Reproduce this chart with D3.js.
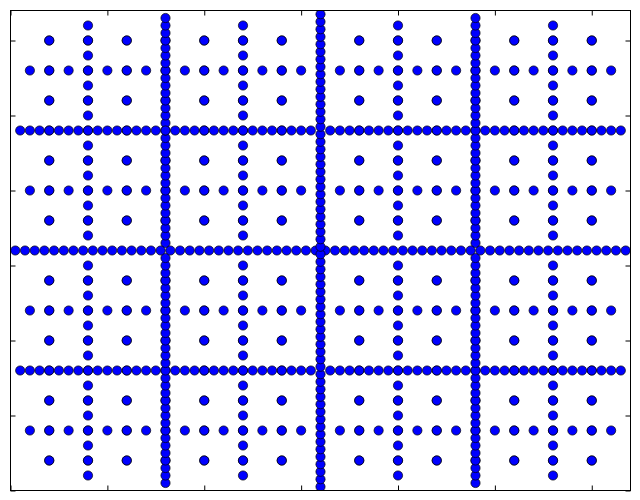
<!DOCTYPE html>
<html>
<head>
<meta charset="utf-8">
<script src="https://cdn.jsdelivr.net/npm/d3@7"></script>
<style>
  html, body { margin: 0; padding: 0; background: #ffffff; }
  svg { display: block; }
</style>
</head>
<body>
<svg id="chart" width="640" height="500"></svg>
<script>
// ---- data ----
const xDomain = [0, 64];
const yDomain = [0, 64];
const xTicks = [0, 10, 20, 30, 40, 50, 60];
const yTicks = [0, 10, 20, 30, 40, 50, 60];

// central cross (x = 32 and y = 32), points every 1 unit, 0.5 .. 63.5
const centerLine = [32];
const centerRange = [0.5, 63.5, 1];
// quarter lines, every 1 unit, 1 .. 63
const level1Lines = [16, 48];
const level1Range = [1, 63, 1];
// cell crosses, every 2 units, 2 .. 62
const level2Lines = [8, 24, 40, 56];
const level2Range = [2, 62, 2];
// sub-cell lines, every 4 units, 4 .. 60
const level3Lines = [4, 12, 20, 28, 36, 44, 52, 60];
const level3Range = [4, 60, 4];

// ---- layout ----
const svg = d3.select("#chart");
const plot = { left: 10.5, right: 630.5, top: 10.5, bottom: 490.5 };

const x = d3.scaleLinear().domain(xDomain).range([plot.left, plot.right]);
const y = d3.scaleLinear().domain(yDomain).range([plot.bottom, plot.top]);

function along(range, skipCenter) {
  const out = [];
  for (let v = range[0]; v <= range[1] + 1e-9; v += range[2]) {
    if (skipCenter && Math.abs(v - 32) < 1e-9) continue;
    out.push(v);
  }
  return out;
}

const points = [];
function addLines(lines, range, skipCenter) {
  const vals = along(range, skipCenter);
  lines.forEach(p => {
    vals.forEach(v => points.push([v, p]));   // horizontal row at y = p
    vals.forEach(v => points.push([p, v]));   // vertical column at x = p
  });
}
addLines(level3Lines, level3Range, true);
addLines(level2Lines, level2Range, true);
addLines(level1Lines, level1Range, true);
addLines(centerLine, centerRange, false);

const clipId = "plotclip";
svg.append("clipPath").attr("id", clipId)
  .append("rect")
  .attr("x", plot.left).attr("y", plot.top)
  .attr("width", plot.right - plot.left).attr("height", plot.bottom - plot.top);

svg.append("g").attr("clip-path", `url(#${clipId})`)
  .selectAll("circle")
  .data(points)
  .join("circle")
  .attr("cx", d => x(d[0]))
  .attr("cy", d => y(d[1]))
  .attr("r", 4.6)
  .attr("fill", "#0000ff")
  .attr("stroke", "#000000")
  .attr("stroke-width", 0.7);

// axes with inward ticks, no labels
const tickLen = 5;
const bottomAxis = d3.axisBottom(x).tickValues(xTicks).tickSize(-tickLen).tickFormat("");
const topAxis = d3.axisTop(x).tickValues(xTicks).tickSize(-tickLen).tickFormat("");
const leftAxis = d3.axisLeft(y).tickValues(yTicks).tickSize(-tickLen).tickFormat("");
const rightAxis = d3.axisRight(y).tickValues(yTicks).tickSize(-tickLen).tickFormat("");

function styleAxis(g) {
  g.select(".domain").remove();
  g.selectAll(".tick line").attr("stroke", "#000").attr("stroke-width", 1);
}
svg.append("g").attr("transform", `translate(0,${plot.bottom})`).call(bottomAxis).call(styleAxis);
svg.append("g").attr("transform", `translate(0,${plot.top})`).call(topAxis).call(styleAxis);
svg.append("g").attr("transform", `translate(${plot.left},0)`).call(leftAxis).call(styleAxis);
svg.append("g").attr("transform", `translate(${plot.right},0)`).call(rightAxis).call(styleAxis);

// frame
svg.append("rect")
  .attr("x", plot.left).attr("y", plot.top)
  .attr("width", plot.right - plot.left).attr("height", plot.bottom - plot.top)
  .attr("fill", "none").attr("stroke", "#000").attr("stroke-width", 1);
</script>
</body>
</html>
